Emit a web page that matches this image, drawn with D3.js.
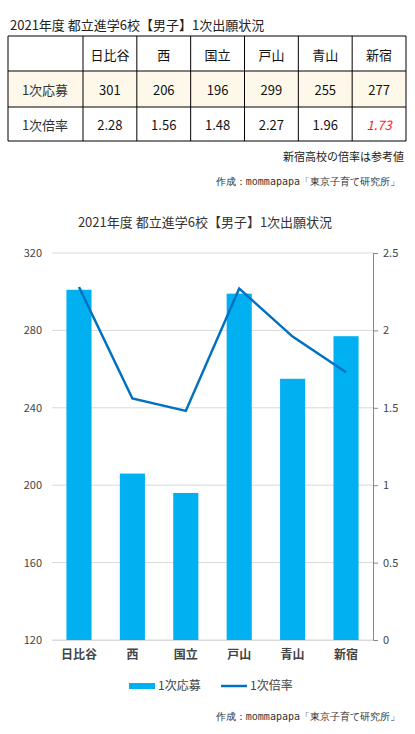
<!DOCTYPE html>
<html><head><meta charset="utf-8">
<script src="https://cdn.jsdelivr.net/npm/d3@7"></script>
<style>body{margin:0;background:#fff;font-family:"Noto Sans CJK JP",sans-serif}</style>
</head><body><svg id="c" width="415" height="734"></svg>
<script>
// data
var schools = ['日比谷', '西', '国立', '戸山', '青山', '新宿'];
var applicants = [301, 206, 196, 299, 255, 277];
var ratios = [2.28, 1.56, 1.48, 2.27, 1.96, 1.73];
var ratioLabels = ['2.28', '1.56', '1.48', '2.27', '1.96', '1.73'];
var leftTicks = [120, 160, 200, 240, 280, 320];
var rightTicks = [0, 0.5, 1, 1.5, 2, 2.5];

var svg = d3.select('#c');
var F = '"Noto Sans CJK JP",sans-serif';

// ---- table ----
svg.append('text').attr('x', 10).attr('y', 30).attr('font-size', 13).attr('font-family', F)
    .attr('fill', '#222').text('2021年度  都立進学6校【男子】1次出願状況');

var colX = d3.scaleBand().domain(schools).range([83, 406]);
var rowY = [36, 71, 107, 141];
svg.append('rect').attr('x', 8).attr('y', rowY[1]).attr('width', 398).attr('height', rowY[2] - rowY[1]).attr('fill', '#fdf8ea');
var tbl = svg.append('g').attr('stroke', '#000').attr('stroke-width', 1);
rowY.forEach(function(y) { tbl.append('line').attr('x1', 8).attr('x2', 406).attr('y1', y).attr('y2', y); });
[8].concat(schools.map(function(s) { return colX(s); }), [406]).forEach(function(x) {
    tbl.append('line').attr('x1', x).attr('x2', x).attr('y1', rowY[0]).attr('y2', rowY[3]);
});
function cell(x, y, t, color, italic) {
    svg.append('text').attr('x', x).attr('y', y).attr('text-anchor', 'middle').attr('dominant-baseline', 'central')
        .attr('font-size', 13).attr('font-family', F).attr('fill', color || '#111')
        .attr('font-style', italic ? 'italic' : null).text(t);
}
schools.forEach(function(s, i) {
    var cx = colX(s) + colX.bandwidth() / 2;
    cell(cx, 54, s);
    cell(cx, 89, applicants[i]);
    cell(cx, 124, ratioLabels[i], i === 5 ? '#ff1a1a' : '#111', i === 5);
});
cell(45, 89, '1次応募', '#333');
cell(45, 124, '1次倍率', '#333');
svg.append('text').attr('x', 404).attr('y', 161).attr('text-anchor', 'end').attr('font-size', 11).attr('font-family', F).attr('fill', '#222').text('新宿高校の倍率は参考値');
function credit(y) {
    svg.append('text').attr('x', 400).attr('y', y).attr('text-anchor', 'end').attr('font-size', 10).attr('font-family', '"DejaVu Sans Mono",monospace').attr('fill', '#333').text('作成：mommapapa「東京子育て研究所」');
}
credit(185);

// ---- chart ----
svg.append('text').attr('x', 205).attr('y', 227).attr('text-anchor', 'middle').attr('font-size', 13).attr('font-family', F).attr('fill', '#333').text('2021年度  都立進学6校【男子】1次出願状況');

var L = 52, R = 373, T = 253, B = 640;
var x = d3.scaleBand().domain(schools).range([L, R]).paddingInner(0.53).paddingOuter(0.27);
var yL = d3.scaleLinear().domain([120, 320]).range([B, T]);
var yR = d3.scaleLinear().domain([0, 2.5]).range([B, T]);

svg.append('g').selectAll('line').data(leftTicks).join('line')
    .attr('x1', L).attr('x2', R).attr('y1', function(d) { return yL(d); }).attr('y2', function(d) { return yL(d); })
    .attr('stroke', '#d9d9d9');

svg.append('g').selectAll('rect').data(applicants).join('rect')
    .attr('x', function(d, i) { return x(schools[i]); }).attr('width', x.bandwidth())
    .attr('y', function(d) { return yL(d); }).attr('height', function(d) { return B - yL(d); })
    .attr('fill', '#00b0f0');

var line = d3.line().x(function(d, i) { return x(schools[i]) + x.bandwidth() / 2; }).y(function(d) { return yR(d); });
svg.append('path').datum(ratios).attr('d', line).attr('fill', 'none').attr('stroke', '#0070c0').attr('stroke-width', 2.5);

var la = svg.append('g').attr('transform', 'translate(' + (L - 8) + ',0)')
    .call(d3.axisLeft(yL).tickValues(leftTicks).tickSize(0).tickPadding(2));
la.select('.domain').remove();
la.selectAll('text').attr('font-size', 11).attr('font-family', F).attr('fill', '#444');

var ra = svg.append('g').attr('transform', 'translate(' + R + ',0)')
    .call(d3.axisRight(yR).tickValues(rightTicks).tickSize(5).tickPadding(5).tickFormat(d3.format('')));
ra.select('.domain').attr('stroke', '#888');
ra.selectAll('line').attr('stroke', '#888');
ra.selectAll('text').attr('font-size', 11).attr('font-family', F).attr('fill', '#444');

var xa = svg.append('g').attr('transform', 'translate(0,' + B + ')').call(d3.axisBottom(x).tickSize(0).tickPadding(10));
xa.select('.domain').attr('stroke', '#d9d9d9');
xa.selectAll('text').attr('font-size', 12).attr('font-weight', 'bold').attr('font-family', F).attr('fill', '#444');

// legend
var lg = svg.append('g').attr('font-family', F).attr('font-size', 12).attr('fill', '#444');
lg.append('rect').attr('x', 129).attr('y', 683).attr('width', 26).attr('height', 6).attr('fill', '#00b0f0');
lg.append('text').attr('x', 158).attr('y', 690).text('1次応募');
lg.append('line').attr('x1', 221).attr('x2', 247).attr('y1', 686).attr('y2', 686).attr('stroke', '#0070c0').attr('stroke-width', 2.5);
lg.append('text').attr('x', 250).attr('y', 690).text('1次倍率');

credit(720);
</script></body></html>
